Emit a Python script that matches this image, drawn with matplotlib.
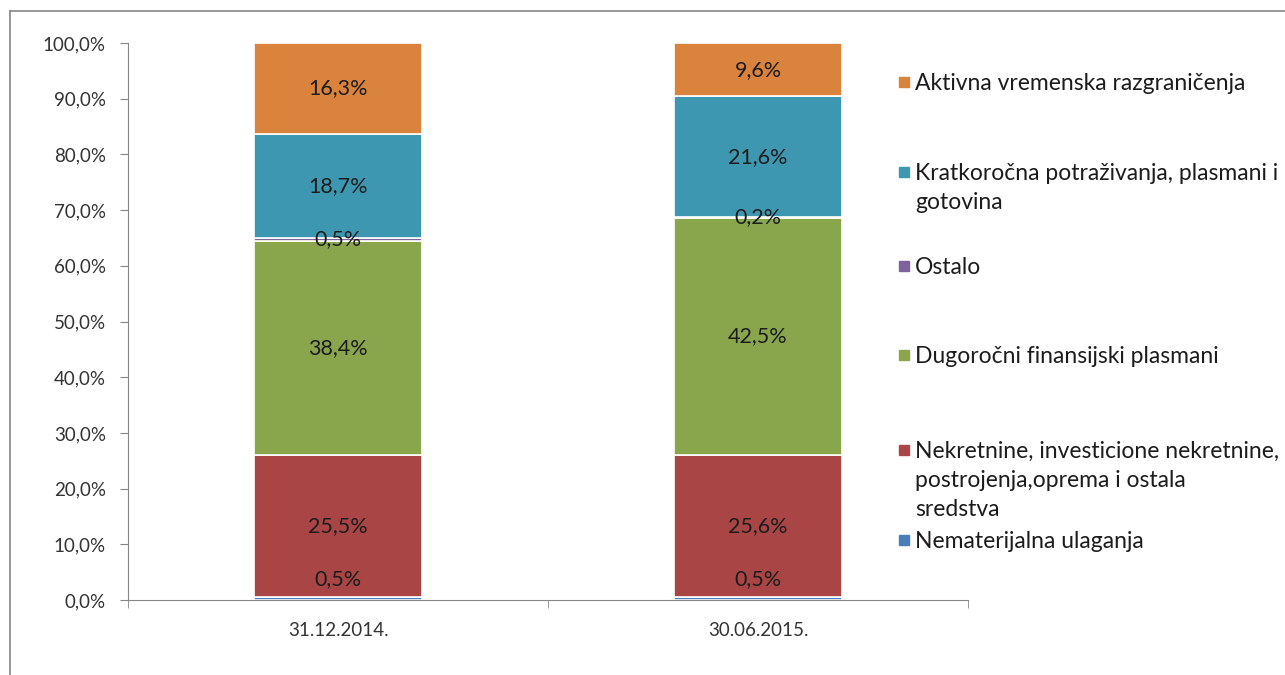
import numpy as np
import matplotlib.pyplot as plt
from matplotlib.lines import Line2D
from matplotlib.patches import Rectangle

plt.rcParams['font.family'] = ['Lato', 'DejaVu Sans']

# data
periods = ['31.12.2014.', '30.06.2015.']
categories = [
    'Nematerijalna ulaganja',
    'Nekretnine, investicione nekretnine,\npostrojenja,oprema i ostala\nsredstva',
    'Dugoročni finansijski plasmani',
    'Ostalo',
    'Kratkoročna potraživanja, plasmani i\ngotovina',
    'Aktivna vremenska razgraničenja',
]
nematerijalna = [0.5, 0.5]
nekretnine = [25.5, 25.6]
dugorocni = [38.4, 42.5]
ostalo = [0.5, 0.2]
kratkorocna = [18.7, 21.6]
aktivna = [16.3, 9.6]

series = [nematerijalna, nekretnine, dugorocni, ostalo, kratkorocna, aktivna]
colors = ['#4A7EBB', '#A94645', '#8AA64D', '#7E62A0', '#3E97B0', '#D9833C']

fig = plt.figure(figsize=(12.85, 6.75), dpi=100)
ax = fig.add_axes([128 / 1285, 1 - 600 / 675, 840 / 1285, 557 / 675])

vals = np.array(series, dtype=float)
totals = vals.sum(axis=0)
pct = vals / totals * 100
x = np.arange(len(periods))
bottom = np.zeros(len(periods))
for i, (row, raw) in enumerate(zip(pct, vals)):
    ax.bar(x, row, 0.4, bottom=bottom, color=colors[i], edgecolor='white', linewidth=1.2)
    for j in range(len(periods)):
        yc = bottom[j] + row[j] / 2
        # first (tiny) segment label sits a bit above the bar base, like in the original
        off = 14 if i == 0 else 0
        ax.annotate(f'{raw[j]:.1f}%'.replace('.', ','), (x[j], yc), xytext=(0, off),
                    textcoords='offset points', ha='center', va='center',
                    fontsize=15.5, color='#1c1c1c')
    bottom += row

ax.set_xlim(-0.5, 1.5)
ax.set_ylim(0, 100)
ax.set_yticks(np.arange(0, 101, 10))
ax.set_yticklabels([f'{v:.1f}%'.replace('.', ',') for v in np.arange(0, 101, 10)])
ax.set_xticks(x)
ax.set_xticklabels(periods)
ax.set_xticks([-0.5, 0.5, 1.5], minor=True)
ax.tick_params(axis='x', which='major', length=0, pad=16, labelsize=13.5, colors='#333333')
ax.tick_params(axis='x', which='minor', length=6, direction='out', color='#868686')
ax.tick_params(axis='y', length=6, direction='out', color='#868686', labelsize=13.5,
               labelcolor='#333333', pad=10)
for s in ['top', 'right']:
    ax.spines[s].set_visible(False)
for s in ['left', 'bottom']:
    ax.spines[s].set_color('#868686')

# legend drawn by hand to keep Excel's uneven spacing
leg_y = [82, 172, 266, 355, 450, 540]  # first-line centres in px, top to bottom
order = list(range(len(categories)))[::-1]
for k, idx in enumerate(order):
    fy = 1 - leg_y[k] / 675
    fig.patches.append(Rectangle((899 / 1285, fy - 5 / 675), 10 / 1285, 10 / 675,
                                 transform=fig.transFigure, color=colors[idx]))
    fig.text(915 / 1285, fy + 9 / 675, categories[idx], ha='left', va='top',
             fontsize=16.5, color='#1c1c1c', linespacing=1.48)

# outer frame (left and top edges)
fig.add_artist(Line2D([10 / 1285, 10 / 1285], [0, 1 - 11 / 675], transform=fig.transFigure,
                      color='#868686', lw=1.2))
fig.add_artist(Line2D([10 / 1285, 1], [1 - 11 / 675, 1 - 11 / 675], transform=fig.transFigure,
                      color='#868686', lw=1.2))

fig.savefig('out.png', dpi=100)
